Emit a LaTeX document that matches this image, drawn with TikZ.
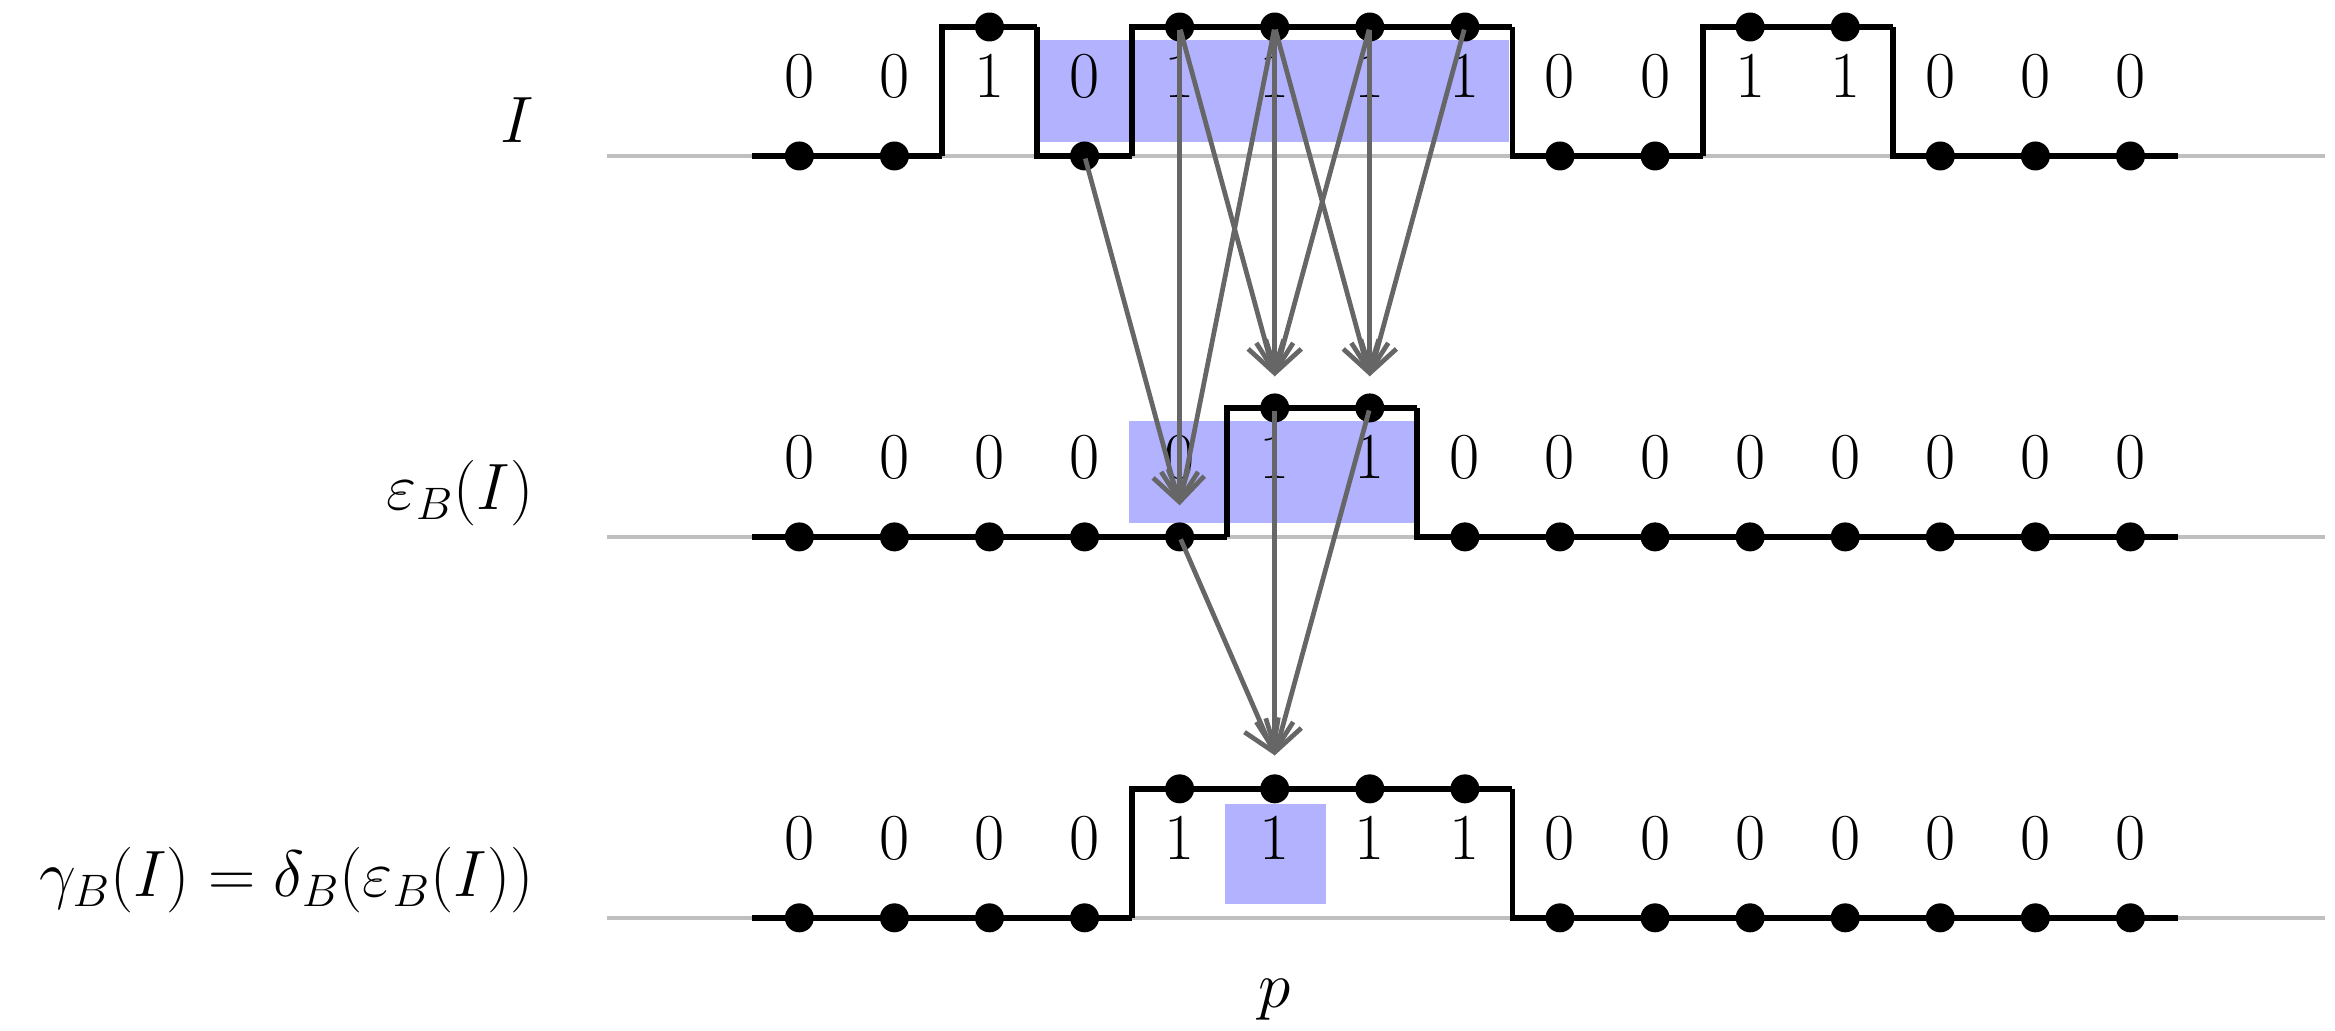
\documentclass[tikz,border=0pt]{standalone}
\usetikzlibrary{arrows.meta}
\tikzset{
  axis/.style={gray!50,line width=1.7pt},
  signal/.style={black,line width=2.2pt,line join=miter},
  dot/.style={circle,fill=black,inner sep=0pt,minimum size=11pt},
  digit/.style={font=\fontsize{24}{28}\selectfont,anchor=base},
  hilite/.style={fill=blue!30},
  flow/.style={black!60,line width=1.8pt,-{Straight Barb[length=11pt,width=14pt]},shorten <=1pt},
  rowlabel/.style={font=\fontsize{24}{28}\selectfont,anchor=base east}
}
\begin{document}
\begin{tikzpicture}[x=0.02cm,y=-0.02cm]
    \useasboundingbox (0,0) rectangle (1557,687);

    % highlighted windows
    \fill[hilite] (693,27) rectangle (1006,95);
    \fill[hilite] (753,281) rectangle (944,349);
    \fill[hilite] (817,536) rectangle (884,603);

    % baselines
    \foreach \y in {104,358,612}
        \draw[axis] (405,\y) -- (1550,\y);

    % signals, digits and dots
    \foreach \r/\y/\vals in {a/104/{0,0,1,0,1,1,1,1,0,0,1,1,0,0,0},
                             b/358/{0,0,0,0,0,1,1,0,0,0,0,0,0,0,0},
                             c/612/{0,0,0,0,1,1,1,1,0,0,0,0,0,0,0}}{
        \foreach \v [count=\i from 0, remember=\v as \pv (initially 0)] in \vals {
            \pgfmathsetmacro{\xx}{533+63.4*\i}
            \draw[signal] (\xx-31.7,\y-86*\pv) -- (\xx-31.7,\y-86*\v) -- (\xx+31.7,\y-86*\v);
            \node[dot] (\r-\i) at (\xx,\y-86*\v) {};
            \node[digit] at (\xx,\y-39) {$\v$};
        }
    }

    % labels
    \node[rowlabel] (lab-a) at (362,95) {$I$};
    \node[rowlabel] (lab-b) at (362,340) {$\varepsilon_B(I)$};
    \node[rowlabel] (lab-c) at (362,598) {$\gamma_B(I)=\delta_B(\varepsilon_B(I))$};
    \node[digit] (lab-p) at (850,672) {$p$};

    % erosion arrows
    \foreach \t in {4,5,6}{
        \pgfmathtruncatemacro{\lo}{\t-1}
        \pgfmathtruncatemacro{\hi}{\t+1}
        \foreach \s in {\lo,...,\hi}
            \draw[flow] (a-\s.center) -- ([yshift=12pt]b-\t.center);
    }
    % dilation arrows
    \foreach \s in {4,5,6}
        \draw[flow] (b-\s.center) -- ([yshift=7pt]c-5.north);
\end{tikzpicture}
\end{document}
